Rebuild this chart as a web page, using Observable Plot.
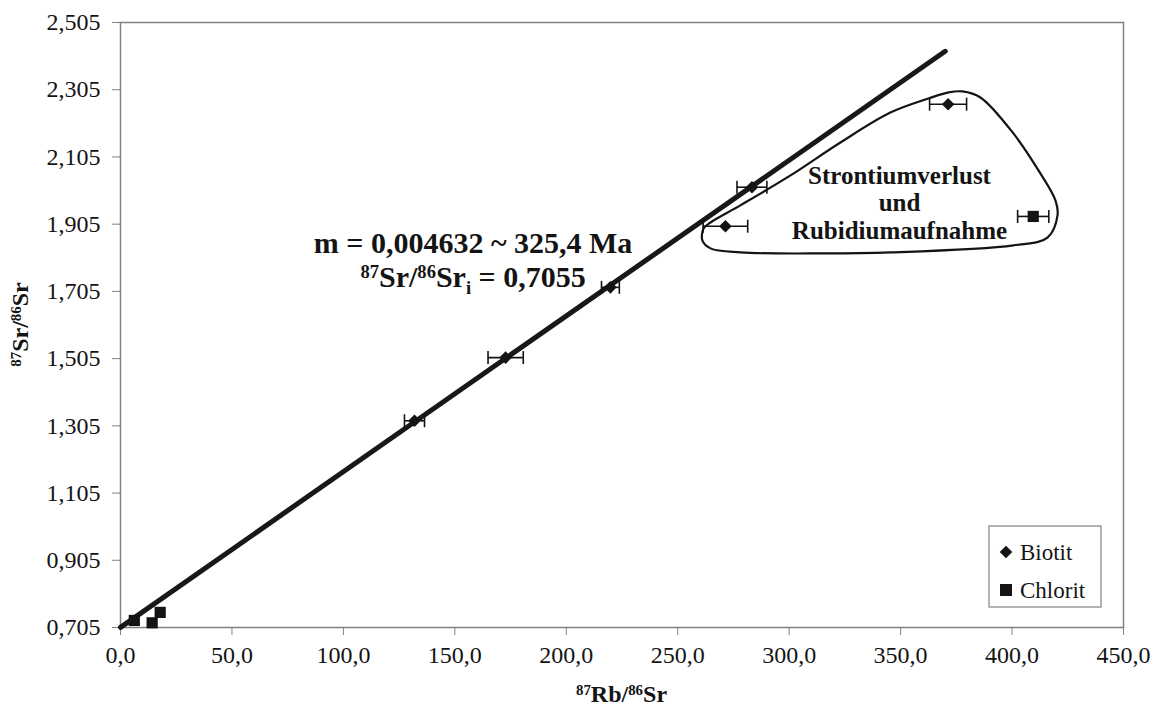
<!DOCTYPE html>
<html>
<head>
<meta charset="utf-8">
<script src="https://cdn.jsdelivr.net/npm/d3@7"></script>
<script src="https://cdn.jsdelivr.net/npm/@observablehq/plot@0.6"></script>
<style>
  body { margin: 0; background: #fff; }
  #chart { position: relative; width: 1156px; height: 709px; }
</style>
</head>
<body>
<div id="chart"></div>
<script>
// Biotite separates: 87Rb/86Sr, 87Sr/86Sr and the analytical error on 87Rb/86Sr
const biotitRbSr = [131.9, 172.8, 219.8, 283.3, 271.4, 371.3];
const biotitSrSr = [1.320, 1.508, 1.717, 2.015, 1.899, 2.262];
const biotitErr  = [4.5, 7.9, 4.0, 6.7, 10.0, 8.3];

// Chlorite separates
const chloritRbSr = [6.2, 14.2, 17.8, 409.5];
const chloritSrSr = [0.726, 0.719, 0.750, 1.928];
const chloritErr  = [0, 0, 0, 7.0];

// Isochron: slope and initial ratio as stated in the annotation
const isoSlope = 0.004632;
const isoInitial = 0.7055;
const isoRange = [0, 370];

// Outline around the disturbed samples (Sr loss / Rb gain)
const loopRbSr = [377.7, 385.8, 400.6, 412.7, 419.5, 420.4, 415.9, 400.6, 345.4, 315.4,
                  278.1, 264.7, 261.1, 261.6, 264.7, 278.1, 300.6, 323.0, 345.4, 362.5, 371.5];
const loopSrSr = [2.300, 2.282, 2.175, 2.056, 1.975, 1.931, 1.865, 1.842, 1.821, 1.818,
                  1.821, 1.833, 1.856, 1.892, 1.910, 1.961, 2.050, 2.148, 2.237, 2.279, 2.297];

// Axis ticks
const xTicks = [0, 50, 100, 150, 200, 250, 300, 350, 400, 450];
const yTicks = [0.705, 0.905, 1.105, 1.305, 1.505, 1.705, 1.905, 2.105, 2.305, 2.505];

const INK = "#141414";
const GRID = "#808080";
const SERIF = "'Liberation Serif', 'Times New Roman', serif";

const biotit = biotitRbSr.map((x, i) => ({x, y: biotitSrSr[i], e: biotitErr[i]}));
const chlorit = chloritRbSr.map((x, i) => ({x, y: chloritSrSr[i], e: chloritErr[i]}));
const errors = [...biotit, ...chlorit].filter(d => d.e > 0);
const caps = errors.flatMap(d => [{x: d.x - d.e, y: d.y}, {x: d.x + d.e, y: d.y}]);
const isochron = isoRange.map(x => ({x, y: isoInitial + isoSlope * x}));
const loop = loopRbSr.map((x, i) => ({x, y: loopSrSr[i]}));

// Custom marker shapes, sized from the dot radius
const radiusOf = size => Math.sqrt(size / Math.PI);
const diamondSym = {draw(ctx, size) { const r = radiusOf(size);
  ctx.moveTo(0, -r); ctx.lineTo(r, 0); ctx.lineTo(0, r); ctx.lineTo(-r, 0); ctx.closePath(); }};
const squareSym = {draw(ctx, size) { const r = radiusOf(size);
  ctx.rect(-r, -r, 2 * r, 2 * r); }};
const capSym = {draw(ctx, size) { const r = radiusOf(size);
  ctx.moveTo(0, -r); ctx.lineTo(0, r); }};

const comma = (v, digits) => v.toFixed(digits).replace(".", ",");

const W = 1156, H = 709;
const M = {left: 120, right: 33, top: 22, bottom: 82};

const plot = Plot.plot({
  width: W,
  height: H,
  marginLeft: M.left,
  marginRight: M.right,
  marginTop: M.top,
  marginBottom: M.bottom,
  style: {fontFamily: SERIF, fontSize: "24px", color: INK, background: "#fff"},
  x: {domain: [0, 450]},
  y: {domain: [0.705, 2.505]},
  marks: [
    Plot.frame({stroke: GRID, strokeWidth: 1.5}),
    Plot.axisX({ticks: xTicks, tickFormat: d => comma(d, 1), tickSize: 8, tickPadding: 10,
                label: null, stroke: GRID, fill: INK, fontSize: 24}),
    Plot.axisY({ticks: yTicks, tickFormat: d => comma(d, 3), tickSize: 8, tickPadding: 12,
                label: null, stroke: GRID, fill: INK, fontSize: 24}),
    Plot.line(loop, {x: "x", y: "y", curve: "catmull-rom-closed", stroke: INK, strokeWidth: 2.2}),
    Plot.line(isochron, {x: "x", y: "y", stroke: "#181818", strokeWidth: 5}),
    Plot.ruleY(errors, {y: "y", x1: d => d.x - d.e, x2: d => d.x + d.e, stroke: INK, strokeWidth: 1.6}),
    Plot.dot(caps, {x: "x", y: "y", symbol: capSym, r: 6.5, stroke: INK, strokeWidth: 1.6, fill: "none"}),
    Plot.dot(biotit, {x: "x", y: "y", symbol: diamondSym, r: 6.3, fill: INK, stroke: "none"}),
    Plot.dot(chlorit, {x: "x", y: "y", symbol: squareSym, r: 5.6, fill: INK, stroke: "none"}),
    Plot.text(["Strontiumverlust\nund\nRubidiumaufnahme"], {
      x: 349.5, y: 1.970, text: d => d, fontWeight: "bold", fontSize: 25,
      lineHeight: 1.1, textAnchor: "middle", fill: INK
    })
  ]
});

document.getElementById("chart").appendChild(plot);

// Rich text with superscripts / subscripts
function rich(sel, parts, size) {
  let shift = 0;
  for (const p of parts) {
    const target = p.sup ? -0.3 * size : p.sub ? 0.26 * size : 0;
    sel.append("tspan")
      .attr("dy", target - shift)
      .attr("font-size", (p.sup || p.sub) ? size * 0.62 : size)
      .text(p.t);
    shift = target;
  }
}

const svg = d3.select(plot);
const sx = plot.scale("x"), sy = plot.scale("y");
const frameLeft = M.left, frameRight = W - M.right, frameTop = M.top, frameBottom = H - M.bottom;

// Axis titles
const xTitle = svg.append("text")
  .attr("x", (frameLeft + frameRight) / 2).attr("y", 702)
  .attr("text-anchor", "middle").attr("font-weight", "bold").attr("fill", INK);
rich(xTitle, [{t: "87", sup: true}, {t: "Rb/"}, {t: "86", sup: true}, {t: "Sr"}], 24);

const yTitle = svg.append("text")
  .attr("transform", `translate(28,${(frameTop + frameBottom) / 2}) rotate(-90)`)
  .attr("text-anchor", "middle").attr("font-weight", "bold").attr("fill", INK);
rich(yTitle, [{t: "87", sup: true}, {t: "Sr/"}, {t: "86", sup: true}, {t: "Sr"}], 24);

// Isochron annotation
const annX = sx.apply(158.4);
svg.append("text")
  .attr("x", annX).attr("y", sy.apply(1.818))
  .attr("text-anchor", "middle").attr("font-weight", "bold").attr("font-size", 30).attr("fill", INK)
  .text(`m = ${comma(isoSlope, 6)} ~ 325,4 Ma`);
const ann2 = svg.append("text")
  .attr("x", annX).attr("y", sy.apply(1.718))
  .attr("text-anchor", "middle").attr("font-weight", "bold").attr("fill", INK);
rich(ann2, [{t: "87", sup: true}, {t: "Sr/"}, {t: "86", sup: true}, {t: "Sr"}, {t: "i", sub: true},
            {t: ` = ${comma(isoInitial, 4)}`}], 30);

// Legend box in the lower right corner of the plot area
const lg = svg.append("g").attr("transform", `translate(${frameRight - 134},${frameBottom - 101})`);
lg.append("rect").attr("width", 112).attr("height", 81)
  .attr("fill", "#fff").attr("stroke", GRID).attr("stroke-width", 1.2);
const legendItems = [
  {label: "Biotit", sym: diamondSym, r: 6.3},
  {label: "Chlorit", sym: squareSym, r: 6}
];
legendItems.forEach((it, i) => {
  const cy = 26 + i * 38;
  lg.append("path")
    .attr("transform", `translate(17,${cy})`)
    .attr("d", d3.symbol(it.sym, Math.PI * it.r * it.r)())
    .attr("fill", INK);
  lg.append("text").attr("x", 31).attr("y", cy + 7.5)
    .attr("text-anchor", "start")
    .attr("font-size", 23).attr("fill", INK).text(it.label);
});
</script>
</body>
</html>
